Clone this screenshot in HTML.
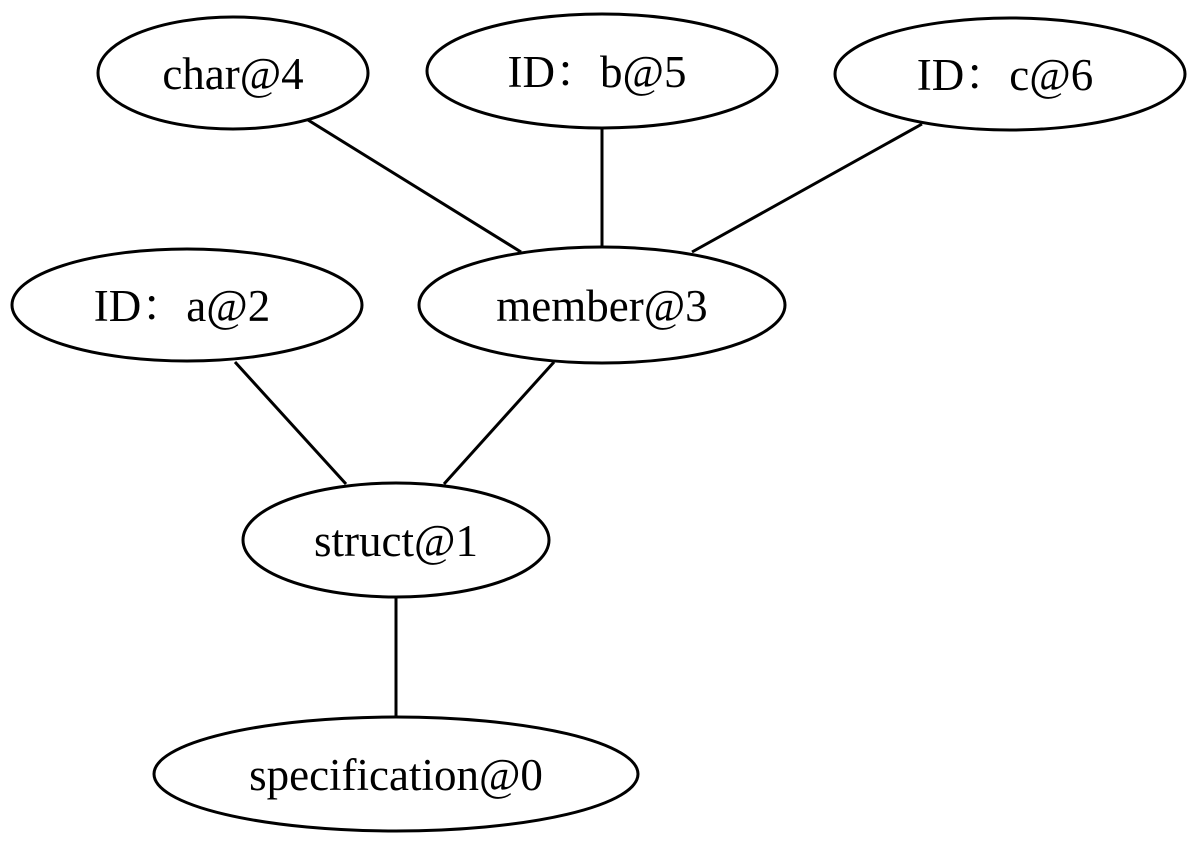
<!DOCTYPE html>
<html><head><style>html,body{margin:0;padding:0;background:#fff}</style></head>
<body>
<svg width="1200" height="846" viewBox="0 0 1200 846" xmlns="http://www.w3.org/2000/svg">
<g fill="none" stroke="#000" stroke-width="3">
<line x1="308" y1="120" x2="521" y2="252"/>
<line x1="602" y1="128" x2="602" y2="247"/>
<line x1="922" y1="124" x2="692" y2="252"/>
<line x1="235" y1="362" x2="346" y2="484"/>
<line x1="554" y1="362" x2="444" y2="484"/>
<line x1="396" y1="597" x2="396" y2="717"/>
<ellipse cx="233" cy="73" rx="135" ry="56"/>
<ellipse cx="602" cy="71" rx="175" ry="57"/>
<ellipse cx="1010" cy="74" rx="175" ry="56"/>
<ellipse cx="187" cy="305" rx="175" ry="56"/>
<ellipse cx="602" cy="305" rx="183" ry="58"/>
<ellipse cx="396" cy="540" rx="153" ry="57"/>
<ellipse cx="396" cy="774" rx="242" ry="57"/>
</g>
<g font-family="'Liberation Serif','Noto Serif CJK SC',serif" font-size="45" text-anchor="middle" fill="#000">
<text x="233" y="89">char@4</text>
<text x="597" y="87">ID：b@5</text>
<text x="1005" y="90">ID：c@6</text>
<text x="182" y="321">ID：a@2</text>
<text x="602" y="321">member@3</text>
<text x="396" y="556">struct@1</text>
<text x="396" y="790">specification@0</text>
</g>
</svg>
</body></html>
